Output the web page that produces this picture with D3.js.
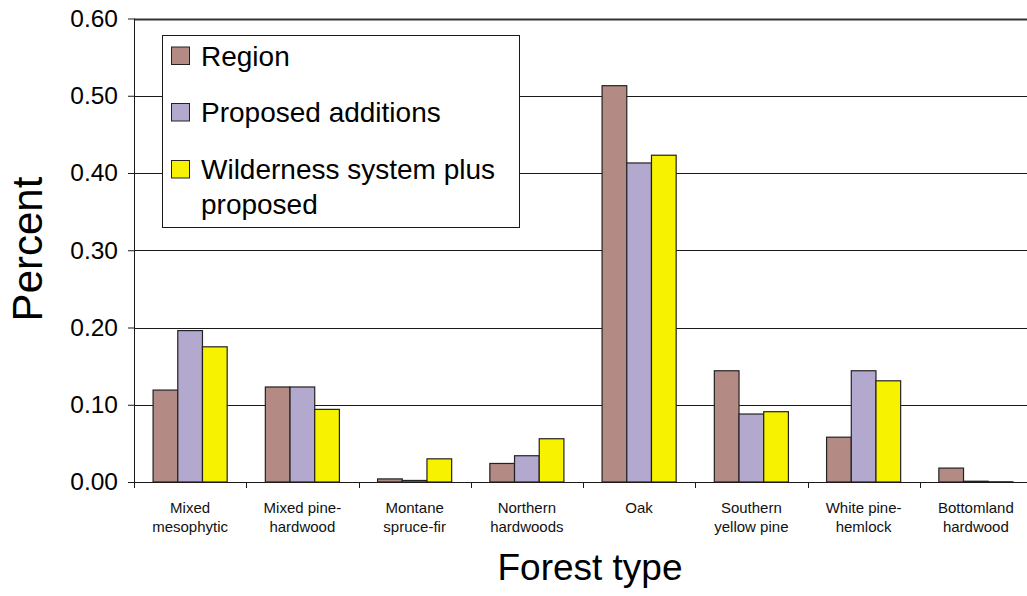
<!DOCTYPE html>
<html>
<head>
<meta charset="utf-8">
<script src="https://cdn.jsdelivr.net/npm/d3@7"></script>
<style>
  html, body { margin: 0; padding: 0; background: #fff; }
  svg { display: block; font-family: "Liberation Sans", Arial, Helvetica, sans-serif; }
</style>
</head>
<body>
<svg id="chart" width="1027" height="596"></svg>
<script>
// ---- Data ----
const categories = [
  ["Mixed", "mesophytic"],
  ["Mixed pine-", "hardwood"],
  ["Montane", "spruce-fir"],
  ["Northern", "hardwoods"],
  ["Oak"],
  ["Southern", "yellow pine"],
  ["White pine-", "hemlock"],
  ["Bottomland", "hardwood"]
];
const seriesNames = ["Region", "Proposed additions", "Wilderness system plus proposed"];
const legendLines = [["Region"], ["Proposed additions"], ["Wilderness system plus", "proposed"]];
const regionValues   = [0.119, 0.123, 0.004, 0.024, 0.513, 0.144, 0.058, 0.018];
const proposedValues = [0.196, 0.123, 0.002, 0.034, 0.413, 0.088, 0.144, 0.001];
const wildernessValues = [0.175, 0.094, 0.030, 0.056, 0.423, 0.091, 0.131, 0.0003];
const yTicks = [0, 0.1, 0.2, 0.3, 0.4, 0.5, 0.6];
const seriesColors = ["#b48a84", "#b3a9cf", "#f7f200"];

(function () {
// ---- Layout ----
const svg = d3.select("#chart");
const pLeft = 134, pRight = 1032, pTop = 18.5, pBottom = 482;
const catKeys = categories.map(c => c.join(" "));
const seriesValues = [regionValues, proposedValues, wildernessValues];

const x0 = d3.scaleBand().domain(catKeys).range([pLeft, pRight]).paddingInner(0).paddingOuter(0);
const x1 = d3.scaleBand().domain(seriesNames).range([0, x0.bandwidth()]).paddingInner(0).paddingOuter(0.773);
const y = d3.scaleLinear().domain([0, 0.6]).range([pBottom, pTop]);

// gridlines
svg.append("g").selectAll("line").data(yTicks.filter(t => t > 0)).join("line")
  .attr("x1", pLeft).attr("x2", pRight)
  .attr("y1", d => Math.round(y(d)) + 0.5).attr("y2", d => Math.round(y(d)) + 0.5)
  .attr("stroke", d => d === 0.6 ? "#333" : "#1a1a1a")
  .attr("stroke-width", d => d === 0.6 ? 2 : 1);

// bars
const groups = svg.append("g").selectAll("g").data(catKeys).join("g")
  .attr("transform", d => `translate(${x0(d)},0)`);
groups.selectAll("rect")
  .data((d, i) => seriesNames.map((s, j) => ({ s, j, v: seriesValues[j][i] })))
  .join("rect")
  .attr("x", d => x1(d.s))
  .attr("width", x1.bandwidth())
  .attr("y", d => y(d.v))
  .attr("height", d => pBottom - y(d.v))
  .attr("fill", d => seriesColors[d.j])
  .attr("stroke", "#222")
  .attr("stroke-width", 1.2);

// y axis
const yAxis = d3.axisLeft(y).tickValues(yTicks).tickFormat(d3.format(".2f")).tickSize(6).tickPadding(10);
const gy = svg.append("g").attr("transform", `translate(${pLeft},0)`).call(yAxis);
gy.select(".domain").attr("stroke", "#1a1a1a").attr("d", `M0.5,${pTop}V${pBottom}`);
gy.selectAll(".tick line").attr("stroke", "#1a1a1a");
gy.selectAll(".tick text").attr("font-size", 24.5).attr("fill", "#000")
  .attr("font-family", "Liberation Sans, Arial, sans-serif");

// x axis
const xAxis = d3.axisBottom(x0).tickSize(0).tickFormat("");
const gx = svg.append("g").attr("transform", `translate(0,${pBottom})`).call(xAxis);
gx.select(".domain").attr("stroke", "#1a1a1a").attr("d", `M${pLeft},0.5H${pRight}`);
const boundaries = catKeys.map(k => x0(k)).concat([pRight]);
gx.append("g").selectAll("line").data(boundaries).join("line")
  .attr("x1", d => Math.round(d) + 0.5).attr("x2", d => Math.round(d) + 0.5)
  .attr("y1", 0).attr("y2", 6).attr("stroke", "#1a1a1a");

// category labels
const labels = svg.append("g").selectAll("text").data(categories).join("text")
  .attr("text-anchor", "middle")
  .attr("font-size", 15)
  .attr("fill", "#111")
  .attr("x", (d, i) => x0(catKeys[i]) + x0.bandwidth() / 2)
  .attr("y", 512.7);
labels.selectAll("tspan").data(d => d).join("tspan")
  .attr("x", function() { return d3.select(this.parentNode).attr("x"); })
  .attr("dy", (d, i) => i === 0 ? 0 : 19)
  .text(d => d);

// axis titles
svg.append("text").attr("x", 590).attr("y", 580).attr("text-anchor", "middle")
  .attr("font-size", 37).attr("fill", "#000").text("Forest type");
svg.append("text").attr("transform", "translate(41.5,249) rotate(-90)").attr("text-anchor", "middle")
  .attr("font-size", 42).attr("fill", "#000").text("Percent");

// legend
const lg = svg.append("g");
lg.append("rect").attr("x", 162.5).attr("y", 35.5).attr("width", 357).attr("height", 192)
  .attr("fill", "#fff").attr("stroke", "#1a1a1a").attr("stroke-width", 1);
const swatchY = [47, 103.5, 160.5];
const textY = [66, 122.3, 179.3];
legendLines.forEach((lines, i) => {
  lg.append("rect").attr("x", 171.5).attr("y", swatchY[i]).attr("width", 18).attr("height", 17.5)
    .attr("fill", seriesColors[i]).attr("stroke", "#222").attr("stroke-width", 1);
  const t = lg.append("text").attr("x", 201).attr("y", textY[i]).attr("font-size", 28).attr("fill", "#000");
  lines.forEach((ln, k) => {
    t.append("tspan").attr("x", 201).attr("dy", k === 0 ? 0 : 35).text(ln);
  });
});
})();
</script>
</body>
</html>
